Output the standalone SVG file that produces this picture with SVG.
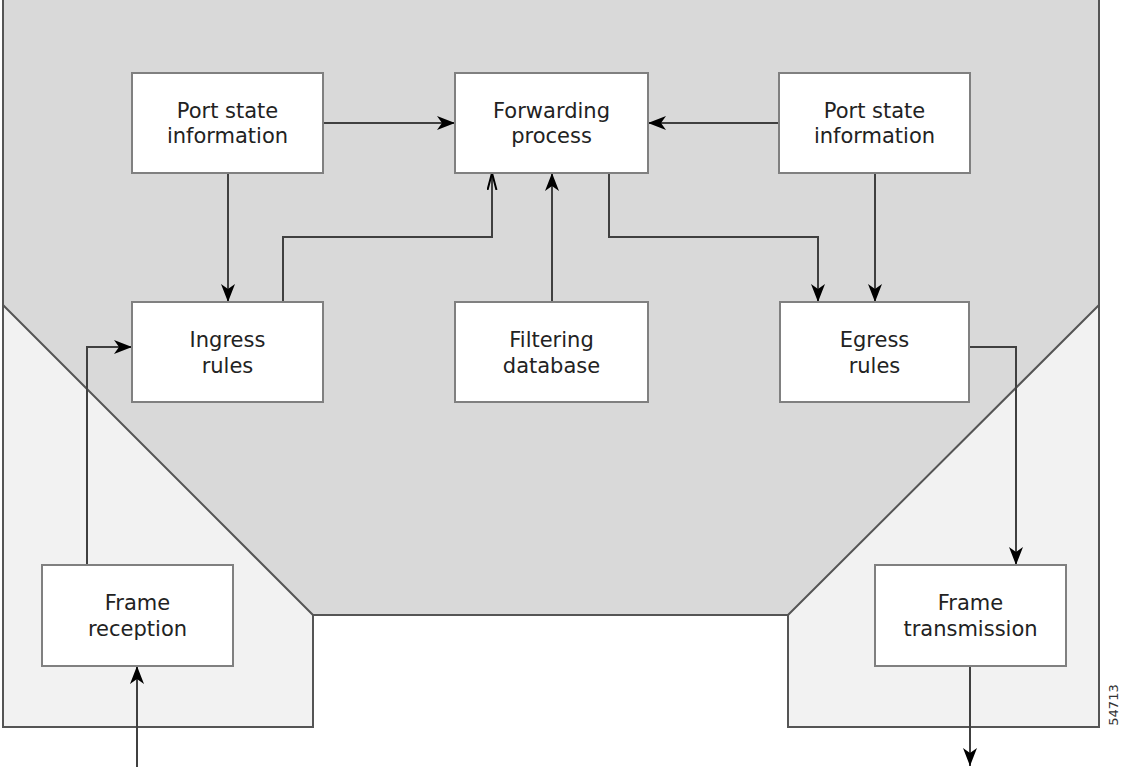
<svg xmlns="http://www.w3.org/2000/svg" width="1124" height="767" viewBox="0 0 1124 767">
<style>
.node rect{fill:#ffffff;stroke:#808080;stroke-width:2}
.node text{font-family:"DejaVu Sans","Liberation Sans",sans-serif;font-size:21px;fill:#222;text-anchor:middle}
.conn{fill:none;stroke:#404040;stroke-width:2}
.tag{font-family:"DejaVu Sans","Liberation Sans",sans-serif;font-size:13px;fill:#333;text-anchor:middle}
.edge{fill:none;stroke:#555;stroke-width:2}
</style>
<defs>
<marker id="arr" markerWidth="20" markerHeight="16" refX="18" refY="7" orient="auto" markerUnits="userSpaceOnUse">
<path d="M0,0 L18,7 L0,14 L5,7 z" fill="#000"/>
</marker>
<marker id="arrOpen" markerWidth="20" markerHeight="12" refX="17" refY="5" orient="auto" markerUnits="userSpaceOnUse">
<path d="M0,0.5 L17,5 L0,9.5" fill="none" stroke="#000" stroke-width="2"/>
</marker>
</defs>
<rect x="0" y="0" width="1124" height="767" fill="#ffffff"/>
<g id="background">
<polygon points="3,0 3,305 313,615 788,615 1099,305 1099,0" fill="#d9d9d9"/>
<polygon points="3,305 313,615 313,727 3,727" fill="#f2f2f2"/>
<polygon points="788,615 1099,305 1099,727 788,727" fill="#f2f2f2"/>
<path class="edge" d="M3,0 V727 H313 V615 H788 V727 H1099 V0"/>
<path class="edge" d="M3,305 L313,615 M788,615 L1099,305"/>
</g>
<g id="connectors">
<path class="conn" d="M323,123 H455" marker-end="url(#arr)"/>
<path class="conn" d="M779,123 H648" marker-end="url(#arr)"/>
<path class="conn" d="M228,173 V302" marker-end="url(#arr)"/>
<path class="conn" d="M283,302 V237 H492 V173" marker-end="url(#arrOpen)"/>
<path class="conn" d="M552,302 V173" marker-end="url(#arr)"/>
<path class="conn" d="M609,173 V237 H818 V302" marker-end="url(#arr)"/>
<path class="conn" d="M875,173 V302" marker-end="url(#arr)"/>
<path class="conn" d="M969,347 H1016 V565" marker-end="url(#arr)"/>
<path class="conn" d="M87,565 V347 H132" marker-end="url(#arr)"/>
<path class="conn" d="M137,767 V666" marker-end="url(#arr)"/>
<path class="conn" d="M970,666 V766" marker-end="url(#arr)"/>
</g>
<g id="port-state-left" class="node">
<rect x="132" y="73" width="191" height="100"/>
<text x="227.5" y="118">Port state</text>
<text x="227.5" y="143">information</text>
</g>
<g id="forwarding-process" class="node">
<rect x="455" y="73" width="193" height="100"/>
<text x="551.5" y="118">Forwarding</text>
<text x="551.5" y="143">process</text>
</g>
<g id="port-state-right" class="node">
<rect x="779" y="73" width="191" height="100"/>
<text x="874.5" y="118">Port state</text>
<text x="874.5" y="143">information</text>
</g>
<g id="ingress-rules" class="node">
<rect x="132" y="302" width="191" height="100"/>
<text x="227.5" y="347">Ingress</text>
<text x="227.5" y="373">rules</text>
</g>
<g id="filtering-database" class="node">
<rect x="455" y="302" width="193" height="100"/>
<text x="551.5" y="347">Filtering</text>
<text x="551.5" y="373">database</text>
</g>
<g id="egress-rules" class="node">
<rect x="780" y="302" width="189" height="100"/>
<text x="874.5" y="347">Egress</text>
<text x="874.5" y="373">rules</text>
</g>
<g id="frame-reception" class="node">
<rect x="42" y="565" width="191" height="101"/>
<text x="137.5" y="610">Frame</text>
<text x="137.5" y="636">reception</text>
</g>
<g id="frame-transmission" class="node">
<rect x="875" y="565" width="191" height="101"/>
<text x="970.5" y="610">Frame</text>
<text x="970.5" y="636">transmission</text>
</g>
<text class="tag" transform="translate(1118,705) rotate(-90)">54713</text>
</svg>
